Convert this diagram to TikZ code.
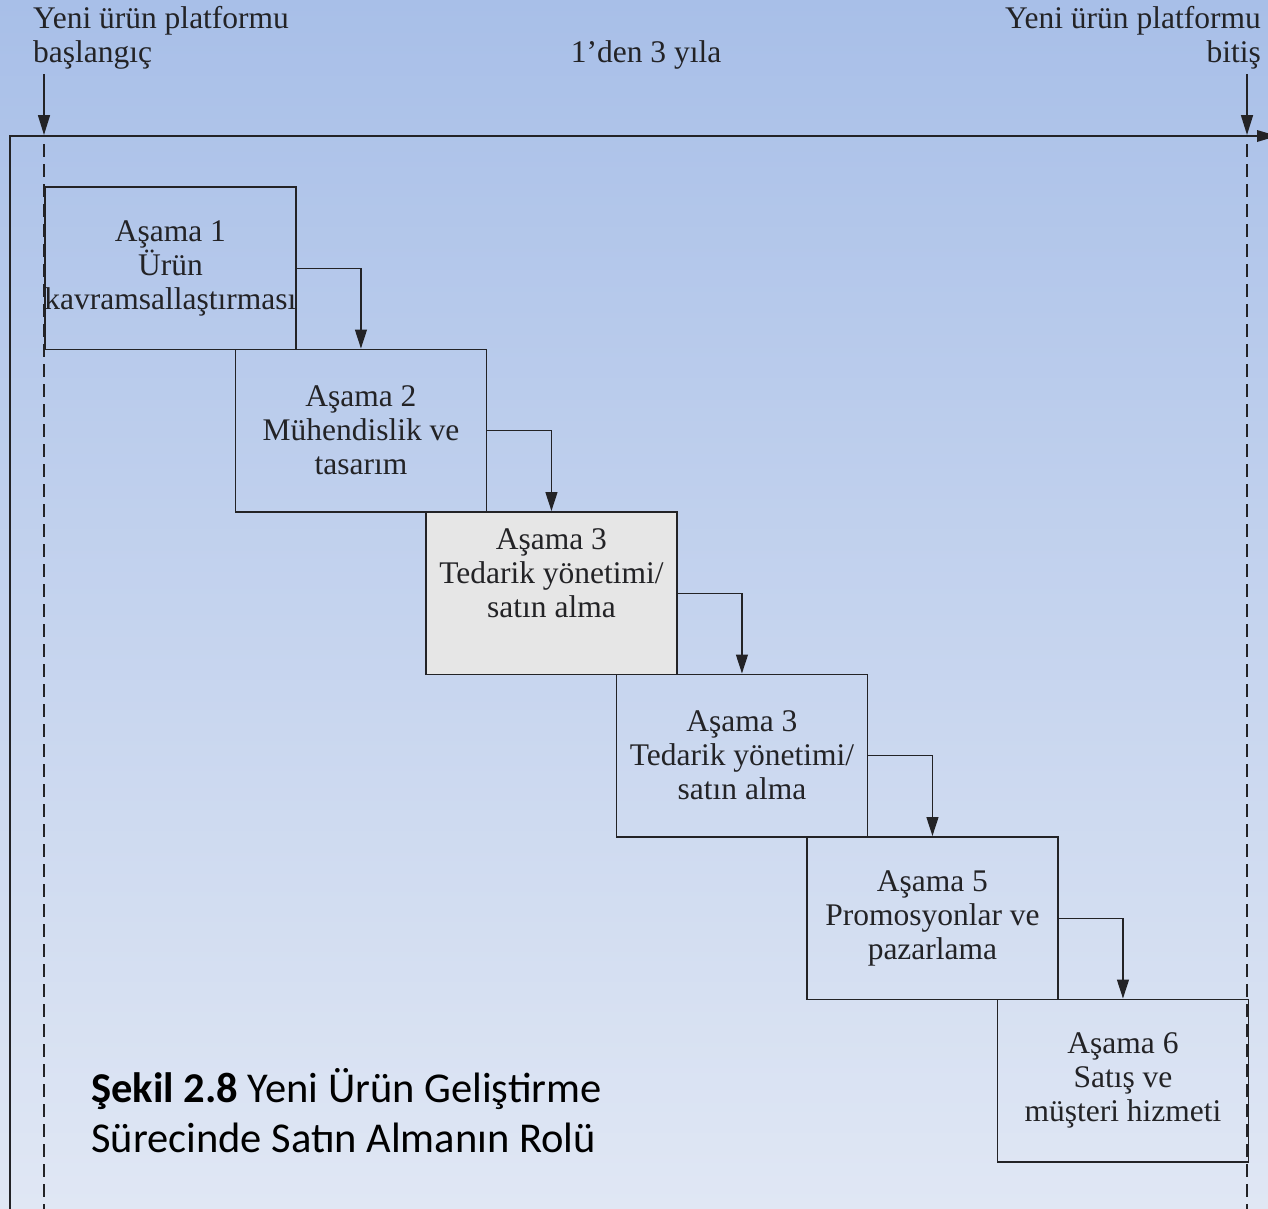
\documentclass[tikz,border=0pt]{standalone}
\usepackage{fontspec}
\setmainfont{Liberation Serif}
\newfontfamily\capfont{Carlito}
\usetikzlibrary{arrows.meta,positioning}

\definecolor{bgtop}{RGB}{168,191,232}
\definecolor{bgbot}{RGB}{224,231,244}
\definecolor{ink}{RGB}{35,35,38}
\definecolor{grayfill}{RGB}{230,230,230}

\tikzset{
  stage/.style={draw=ink, line width=1.9pt, rectangle, anchor=north west,
    minimum width=251pt, minimum height=162.5pt, inner sep=0pt},
  stagetext/.style={align=center, text=ink, font=\fontsize{31.5}{34}\selectfont},
  toplabel/.style={text=ink, font=\fontsize{31.5}{34}\selectfont, inner sep=0pt},
  conn/.style={draw=ink, line width=1.3pt, -{Triangle[length=19pt,width=12pt]}},
  marker/.style={draw=ink, line width=1.6pt, -{Triangle[length=20pt,width=12pt]}},
  frame/.style={draw=ink, line width=1.9pt},
  guide/.style={draw=ink, line width=1.8pt, dash pattern=on 13pt off 7pt},
}

\begin{document}
\begin{tikzpicture}[x=1pt, y=-1pt]
  % page area and background shading
  \useasboundingbox (0,0) rectangle (1268,1208);
  \clip (0,0) rectangle (1268,1208);
  \shade[top color=bgtop, bottom color=bgbot] (0,0) rectangle (1268,1208);

  % time axis and frame
  \coordinate (axisL) at (10,136);
  \coordinate (axisR) at (1277,136);
  \coordinate (axisB) at (10,1210);
  \draw[frame] (axisB) -- (axisL) -- (axisR);
  \fill[ink] (axisR) -- ++(-20,-6) -- ++(0,12) -- cycle;

  % start / end markers and guide lines
  \coordinate (startTop) at (44,74);
  \coordinate (startAxis) at (44,135);
  \coordinate (startBot) at (44,1210);
  \coordinate (endTop) at (1247,74);
  \coordinate (endAxis) at (1247,135);
  \coordinate (endBot) at (1247,1210);
  \draw[marker] (startTop) -- (startAxis);
  \draw[marker] (endTop) -- (endAxis);
  \draw[guide] (44,144) -- (startBot);
  \draw[guide] (1247,144) -- (endBot);

  % labels above the axis (base = baseline of the last line)
  \node[toplabel, anchor=base west, align=left] (startlbl) at (33,62)
    {Yeni ürün platformu\\başlangıç};
  \node[toplabel, anchor=base east, align=right] (endlbl) at (1261,62)
    {Yeni ürün platformu\\bitiş};
  \node[toplabel, anchor=base] (span) at (646,62) {1{\char"0027}den 3 yıla};

  % stage boxes
  \node[stage] (s1) at (44,186) {};
  \node[stage] (s2) at (234.5,348.5) {};
  \node[stage, fill=grayfill] (s3) at (425,511) {};
  \node[stage] (s4) at (615.5,673.5) {};
  \node[stage] (s5) at (806,836) {};
  \node[stage] (s6) at (996.5,998.5) {};

  \node[stagetext] (t1) at (s1.center) {Aşama 1\\Ürün\\kavramsallaştırması};
  \node[stagetext] (t2) at (s2.center) {Aşama 2\\Mühendislik ve\\tasarım};
  \node[stagetext] (t3) at ([yshift=20pt]s3.center) {Aşama 3\\Tedarik yönetimi/\\satın alma};
  \node[stagetext] (t4) at (s4.center) {Aşama 3\\Tedarik yönetimi/\\satın alma};
  \node[stagetext] (t5) at (s5.center) {Aşama 5\\Promosyonlar ve\\pazarlama};
  \node[stagetext] (t6) at (s6.center) {Aşama 6\\Satış ve\\müşteri hizmeti};

  % hand-offs between stages
  \draw[conn] (s1.east) -| (s2.north);
  \draw[conn] (s2.east) -| (s3.north);
  \draw[conn] (s3.east) -| (s4.north);
  \draw[conn] (s4.east) -| (s5.north);
  \draw[conn] (s5.east) -| (s6.north);

  % caption (base = baseline of the second line)
  \node[anchor=base west, align=left, inner sep=0pt, text=black,
        font=\capfont\fontsize{42.5}{50}\selectfont] (caption) at (91,1152)
    {\textbf{Şekil 2.8} Yeni Ürün Geliştirme\\Sürecinde Satın Almanın Rolü};
\end{tikzpicture}
\end{document}
